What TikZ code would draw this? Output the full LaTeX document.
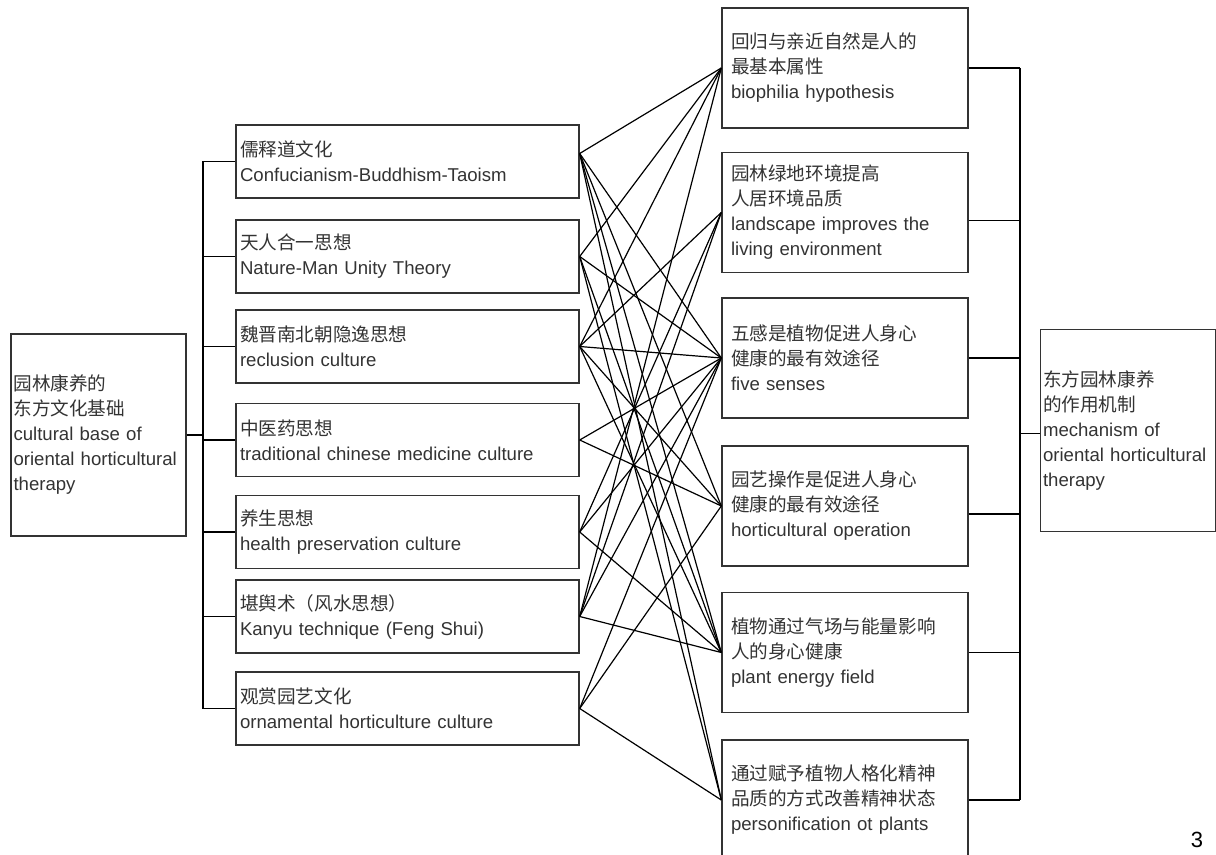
\documentclass[tikz,border=0pt]{standalone}
\usepackage{fontspec}
\setmainfont{Liberation Sans}
\newfontfamily\cjk{Noto Sans CJK SC}

\begin{document}
\begin{tikzpicture}[x=0.5pt,y=-0.5pt,
  every node/.style={draw=black!80, line width=0.7pt, rectangle, align=left,
    font=\fontsize{9.3}{12.5}\selectfont, text=black!80},
  basebox/.style={minimum height=101pt, text width=85pt, inner xsep=1.25pt},
  midbox/.style={minimum height=36.5pt, text width=167.5pt, inner xsep=2pt},
  resbox/.style={minimum height=60pt, text width=114pt, inner xsep=4.5pt},
  link/.style={line width=0.6pt, black}]
\useasboundingbox (0,0) rectangle (1216,855);

% left: cultural base
\node[basebox] (base) at (98.5,435) {{\cjk 园林康养的}\\{\cjk 东方文化基础}\\cultural base of\\oriental horticultural\\therapy};

% middle column
\node[midbox] (m1) at (407.5,161.5) {{\cjk 儒释道文化}\\Confucianism-Buddhism-Taoism};
\node[midbox] (m2) at (407.5,256.5) {{\cjk 天人合一思想}\\Nature-Man Unity Theory};
\node[midbox] (m3) at (407.5,346.5) {{\cjk 魏晋南北朝隐逸思想}\\reclusion culture};
\node[midbox] (m4) at (407.5,440) {{\cjk 中医药思想}\\traditional chinese medicine culture};
\node[midbox] (m5) at (407.5,532) {{\cjk 养生思想}\\health preservation culture};
\node[midbox] (m6) at (407.5,616.5) {{\cjk 堪舆术（风水思想）}\\Kanyu technique (Feng Shui)};
\node[midbox] (m7) at (407.5,708.5) {{\cjk 观赏园艺文化}\\ornamental horticulture culture};

% right column
\node[resbox] (r1) at (845,68) {{\cjk 回归与亲近自然是人的}\\{\cjk 最基本属性}\\biophilia hypothesis};
\node[resbox] (r2) at (845,212.5) {{\cjk 园林绿地环境提高}\\{\cjk 人居环境品质}\\landscape improves the\\living environment};
\node[resbox] (r3) at (845,358) {{\cjk 五感是植物促进人身心}\\{\cjk 健康的最有效途径}\\five senses};
\node[resbox] (r4) at (845,506) {{\cjk 园艺操作是促进人身心}\\{\cjk 健康的最有效途径}\\horticultural operation};
\node[resbox] (r5) at (845,652.5) {{\cjk 植物通过气场与能量影响}\\{\cjk 人的身心健康}\\plant energy field};
\node[resbox] (r6) at (845,800) {{\cjk 通过赋予植物人格化精神}\\{\cjk 品质的方式改善精神状态}\\personification ot plants};

% far right: mechanism
\node[basebox] (mech) at (1128,430.5) {{\cjk 东方园林康养}\\{\cjk 的作用机制}\\mechanism of\\oriental horticultural\\therapy};

\node[draw=none, font=\fontsize{11}{13}\selectfont, text=black] (pg) at (1197,840) {3};

% left tree
\coordinate (ltrunk) at (203,0);
\draw[link] (base.east) -- (base.east -| ltrunk);
\draw[link] (m1.west -| ltrunk) -- (m7.west -| ltrunk);
\foreach \i in {1,...,7}
  \draw[link] (m\i.west -| ltrunk) -- (m\i.west);

% right tree
\coordinate (rtrunk) at (1020,0);
\draw[link] (r1.east -| rtrunk) -- (r6.east -| rtrunk);
\foreach \i/\dy in {1/0,2/-4,3/0,4/-4,5/0,6/0}
  \draw[link] ([yshift=\dy pt]r\i.east) -- ([yshift=\dy pt]r\i.east -| rtrunk);
\draw[link] ([yshift=-1.5pt]mech.west) -- ([yshift=-1.5pt]mech.west -| rtrunk);

% cross links
\coordinate (m1out) at ([yshift=4pt]m1.east);
\foreach \b in {1,3,4,5,6}
  \draw[link] (m1out) -- (r\b.west);
\foreach \a/\b in {2/1,2/3,2/5,2/6,
                   3/1,3/2,3/3,3/4,3/5,
                   4/3,4/4,
                   5/2,5/3,5/5,
                   6/1,6/2,6/3,6/5,
                   7/3,7/4,7/6}
  \draw[link] (m\a.east) -- (r\b.west);
\end{tikzpicture}
\end{document}
